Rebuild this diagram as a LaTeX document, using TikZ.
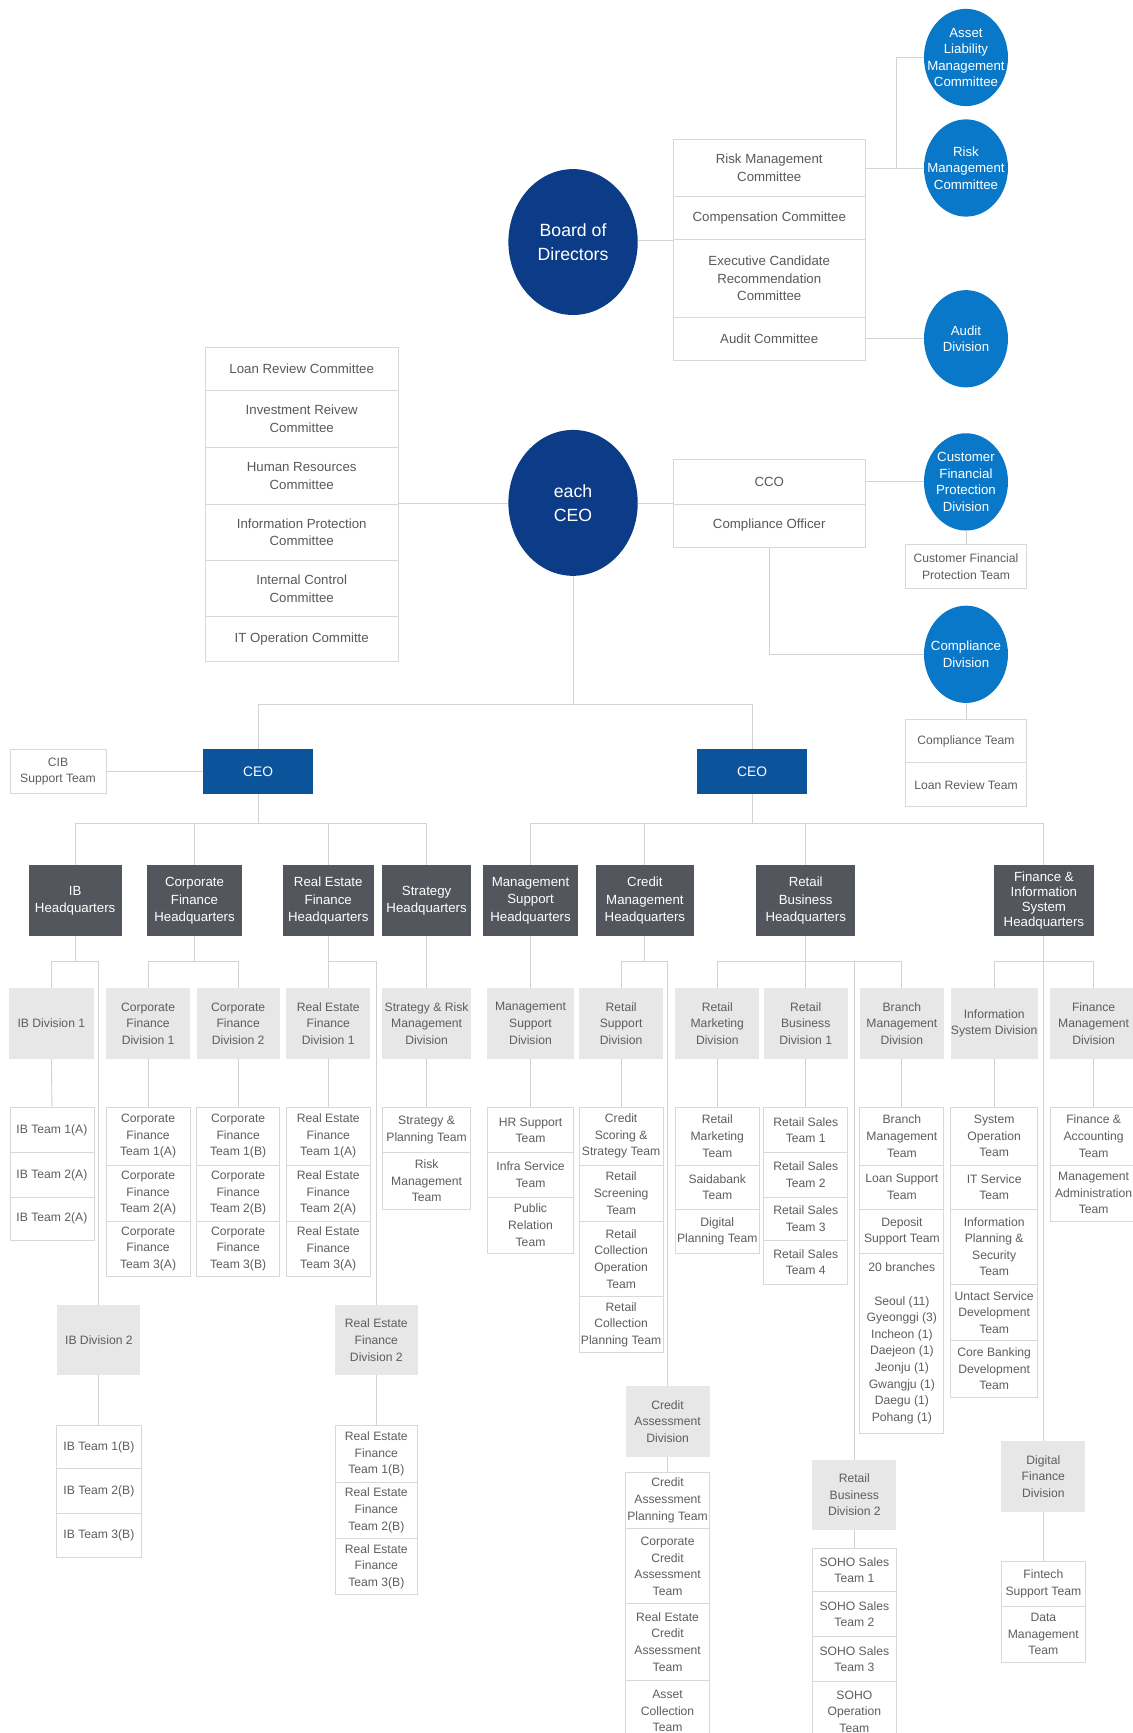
\documentclass[tikz,border=0pt]{standalone}
\usepackage{fontspec}
\setmainfont{Liberation Sans}
\usetikzlibrary{shapes.geometric}
\definecolor{navy}{HTML}{0C3C87}
\definecolor{lblue}{HTML}{0A78C8}
\definecolor{ceob}{HTML}{0B549C}
\definecolor{hqg}{HTML}{53575D}
\definecolor{divg}{HTML}{E7E7E7}
\definecolor{bord}{HTML}{D8D8D8}
\definecolor{linec}{HTML}{D2D2D2}
\definecolor{txt}{HTML}{5E5E5E}
\newcommand\obox[7]{%
  \pgfmathsetmacro\oxa{(#3+#5)/2}%
  \pgfmathsetmacro\oya{(#4+#6)/2}%
  \pgfmathsetmacro\owd{#5-#3}%
  \pgfmathsetmacro\oht{#6-#4}%
  \node[#1, minimum width=\owd pt, minimum height=\oht pt] (#2) at (\oxa,\oya) {#7};}
\tikzset{
  teamb/.style={draw=bord, fill=white, text=txt, align=center, inner sep=0pt, line width=0.7pt, font=\fontsize{11}{15}\selectfont},
  commb/.style={teamb, text=txt!95!black, font=\fontsize{12}{16}\selectfont},
  divb/.style={fill=divg, text=txt, align=center, inner sep=0pt, font=\fontsize{11}{15}\selectfont},
  hqbox/.style={fill=hqg, text=white, align=center, inner sep=0pt, font=\fontsize{12}{16}\selectfont},
  hqfbox/.style={hqbox, font=\fontsize{12}{13.7}\selectfont},
  ceobox/.style={fill=ceob, text=white, inner sep=0pt, font=\fontsize{12.5}{15}\selectfont},
  bigc/.style={ellipse, fill=navy, minimum width=117pt, minimum height=132pt, inner sep=0pt},
  smc/.style={ellipse, fill=lblue, minimum width=76pt, minimum height=88pt, inner sep=0pt},
  bigt/.style={text=white, align=center, inner sep=0pt, font=\fontsize{16}{22}\selectfont},
  smt/.style={text=white, align=center, inner sep=0pt, font=\fontsize{12}{15}\selectfont},
  ln/.style={draw=linec, line width=0.8pt}
}
\begin{document}
\begin{tikzpicture}[x=1pt,y=-1pt]
\fill[white] (0,0) rectangle (1025,1568);
\useasboundingbox (0,0) rectangle (1025,1568);

% ---------- top: board ----------
\node[bigc] (bod) at (518.5,219) {};
\node[bigt] (bodT) at (bod) {Board of\\Directors};
\obox{commb}{rmcr}{609}{126}{783}{178}{Risk Management\\Committee}
\obox{commb}{comp}{609}{178}{783}{217}{Compensation Committee}
\obox{commb}{ecr}{609}{217}{783}{287}{Executive Candidate\\Recommendation\\Committee}
\obox{commb}{audc}{609}{287}{783}{326}{Audit Committee}
\node[smc] (almC) at (874,52) {};
\node[smt] (almT) at (almC) {Asset\\Liability\\Management\\Committee};
\node[smc] (rmcC) at (874,152) {};
\node[smt] (rmcT) at (rmcC) {Risk\\Management\\Committee};
\node[smc] (audC) at (874,306.5) {};
\node[smt] (audT) at (audC) {Audit\\Division};

% ---------- each CEO ----------
\node[bigc] (ceo0) at (518.5,455) {};
\node[bigt] (ceo0T) at (ceo0) {each\\CEO};
\obox{commb}{lrc}{186}{314}{360}{353}{Loan Review Committee}
\obox{commb}{irc}{186}{353}{360}{405}{Investment Reivew\\Committee}
\obox{commb}{hrc}{186}{405}{360}{456}{Human Resources\\Committee}
\obox{commb}{ipc}{186}{456}{360}{507}{Information Protection\\Committee}
\obox{commb}{icc}{186}{507}{360}{558}{Internal Control\\Committee}
\obox{commb}{itc}{186}{558}{360}{598}{IT Operation Committe}
\obox{commb}{cco}{609}{416}{783}{456}{CCO}
\obox{commb}{co}{609}{456}{783}{495}{Compliance Officer}
\node[smc] (cfpdC) at (874,436) {};
\node[smt] (cfpdT) at (cfpdC) {Customer\\Financial\\Protection\\Division};
\obox{teamb}{cfpt}{819}{493}{929}{532}{Customer Financial\\Protection Team}
\node[smc] (cdC) at (874,592) {};
\node[smt] (cdT) at (cdC) {Compliance\\Division};
\obox{teamb}{ctm}{819}{651}{929}{690}{Compliance Team}
\obox{teamb}{lrt}{819}{690}{929}{730}{Loan Review Team}

% ---------- CEOs ----------
\obox{teamb}{cib}{9}{678}{96}{718}{CIB\\Support Team}
\obox{ceobox}{ceoL}{184}{678}{283}{718}{CEO}
\obox{ceobox}{ceoR}{631}{678}{730}{718}{CEO}

% ---------- headquarters ----------
\obox{hqbox}{ibhq}{26}{783}{110}{847}{IB\\Headquarters}
\obox{hqbox}{cfhq}{133}{783}{219}{847}{Corporate\\Finance\\Headquarters}
\obox{hqbox}{rehq}{256}{783}{338}{847}{Real Estate\\Finance\\Headquarters}
\obox{hqbox}{sthq}{346}{783}{426}{847}{Strategy\\Headquarters}
\obox{hqbox}{mshq}{437}{783}{523}{847}{Management\\Support\\Headquarters}
\obox{hqbox}{cmhq}{539}{783}{628}{847}{Credit\\Management\\Headquarters}
\obox{hqbox}{rbhq}{684}{783}{774}{847}{Retail\\Business\\Headquarters}
\obox{hqfbox}{fishq}{899}{783}{990}{847}{Finance \&\\Information\\System\\Headquarters}

% ---------- divisions ----------
\obox{divb}{ibd1}{8}{894}{85}{958}{IB Division 1}
\obox{divb}{cfd1}{96}{894}{172}{958}{Corporate\\Finance\\Division 1}
\obox{divb}{cfd2}{178}{894}{253}{958}{Corporate\\Finance\\Division 2}
\obox{divb}{red1}{259}{894}{335}{958}{Real Estate\\Finance\\Division 1}
\obox{divb}{std}{346}{894}{426}{958}{Strategy \& Risk\\Management\\Division}
\obox{divb}{msd}{441}{894}{519}{958}{Management\\Support\\Division}
\obox{divb}{rsd}{524}{894}{600}{958}{Retail\\Support\\Division}
\obox{divb}{rmd}{611}{894}{687}{958}{Retail\\Marketing\\Division}
\obox{divb}{rbd1}{691}{894}{767}{958}{Retail\\Business\\Division 1}
\obox{divb}{bmd}{778}{894}{854}{958}{Branch\\Management\\Division}
\obox{divb}{isd}{860}{894}{939}{958}{Information\\System Division}
\obox{divb}{fmd}{950}{894}{1029}{958}{Finance\\Management\\Division}
\obox{divb}{ibd2}{52}{1181}{127}{1244}{IB Division 2}
\obox{divb}{red2}{303}{1181}{378}{1244}{Real Estate\\Finance\\Division 2}
\obox{divb}{cad}{566}{1254}{642}{1318}{Credit\\Assessment\\Division}
\obox{divb}{rbd2}{735}{1321}{811}{1384}{Retail\\Business\\Division 2}
\obox{divb}{dfd}{906}{1304}{982}{1368}{Digital\\Finance\\Division}

% ---------- teams ----------
\obox{teamb}{ibA1}{9}{1002}{85}{1043}{IB Team 1(A)}
\obox{teamb}{ibA2}{9}{1043}{85}{1083}{IB Team 2(A)}
\obox{teamb}{ibA3}{9}{1083}{85}{1122}{IB Team 2(A)}

\obox{teamb}{cfA1}{96}{1002}{172}{1054}{Corporate\\Finance\\Team 1(A)}
\obox{teamb}{cfA2}{96}{1054}{172}{1105}{Corporate\\Finance\\Team 2(A)}
\obox{teamb}{cfA3}{96}{1105}{172}{1155}{Corporate\\Finance\\Team 3(A)}

\obox{teamb}{cfB1}{178}{1002}{253}{1054}{Corporate\\Finance\\Team 1(B)}
\obox{teamb}{cfB2}{178}{1054}{253}{1105}{Corporate\\Finance\\Team 2(B)}
\obox{teamb}{cfB3}{178}{1105}{253}{1155}{Corporate\\Finance\\Team 3(B)}

\obox{teamb}{reA1}{259}{1002}{335}{1054}{Real Estate\\Finance\\Team 1(A)}
\obox{teamb}{reA2}{259}{1054}{335}{1105}{Real Estate\\Finance\\Team 2(A)}
\obox{teamb}{reA3}{259}{1105}{335}{1155}{Real Estate\\Finance\\Team 3(A)}

\obox{teamb}{st1}{346}{1002}{426}{1043}{Strategy \&\\Planning Team}
\obox{teamb}{st2}{346}{1043}{426}{1094}{Risk\\Management\\Team}

\obox{teamb}{ms1}{441}{1002}{519}{1043}{HR Support\\Team}
\obox{teamb}{ms2}{441}{1043}{519}{1083}{Infra Service\\Team}
\obox{teamb}{ms3}{441}{1083}{519}{1134}{Public\\Relation\\Team}

\obox{teamb}{rs1}{524}{1002}{600}{1054}{Credit\\Scoring \&\\Strategy Team}
\obox{teamb}{rs2}{524}{1054}{600}{1105}{Retail\\Screening\\Team}
\obox{teamb}{rs3}{524}{1105}{600}{1173}{Retail\\Collection\\Operation\\Team}
\obox{teamb}{rs4}{524}{1173}{600}{1224}{Retail\\Collection\\Planning Team}

\obox{teamb}{rm1}{611}{1002}{687}{1054}{Retail\\Marketing\\Team}
\obox{teamb}{rm2}{611}{1054}{687}{1094}{Saidabank\\Team}
\obox{teamb}{rm3}{611}{1094}{687}{1134}{Digital\\Planning Team}

\obox{teamb}{rb1}{691}{1002}{767}{1043}{Retail Sales\\Team 1}
\obox{teamb}{rb2}{691}{1043}{767}{1083}{Retail Sales\\Team 2}
\obox{teamb}{rb3}{691}{1083}{767}{1122}{Retail Sales\\Team 3}
\obox{teamb}{rb4}{691}{1122}{767}{1162}{Retail Sales\\Team 4}

\obox{teamb}{bm1}{778}{1002}{854}{1054}{Branch\\Management\\Team}
\obox{teamb}{bm2}{778}{1054}{854}{1094}{Loan Support\\Team}
\obox{teamb}{bm3}{778}{1094}{854}{1134}{Deposit\\Support Team}
\obox{teamb}{bm4}{778}{1134}{854}{1297}{20 branches\\ \\Seoul (11)\\Gyeonggi (3)\\Incheon (1)\\Daejeon (1)\\Jeonju (1)\\Gwangju (1)\\Daegu (1)\\Pohang (1)}

\obox{teamb}{is1}{860}{1002}{939}{1054}{System\\Operation\\Team}
\obox{teamb}{is2}{860}{1054}{939}{1094}{IT Service\\Team}
\obox{teamb}{is3}{860}{1094}{939}{1162}{Information\\Planning \&\\Security\\Team}
\obox{teamb}{is4}{860}{1162}{939}{1213}{Untact Service\\Development\\Team}
\obox{teamb}{is5}{860}{1213}{939}{1264}{Core Banking\\Development\\Team}

\obox{teamb}{fm1}{950}{1002}{1029}{1054}{Finance \&\\Accounting\\Team}
\obox{teamb}{fm2}{950}{1054}{1029}{1105}{Management\\Administration\\Team}

\obox{teamb}{ibB1}{51}{1290}{128}{1329}{IB Team 1(B)}
\obox{teamb}{ibB2}{51}{1329}{128}{1369}{IB Team 2(B)}
\obox{teamb}{ibB3}{51}{1369}{128}{1409}{IB Team 3(B)}

\obox{teamb}{reB1}{303}{1290}{378}{1341}{Real Estate\\Finance\\Team 1(B)}
\obox{teamb}{reB2}{303}{1341}{378}{1392}{Real Estate\\Finance\\Team 2(B)}
\obox{teamb}{reB3}{303}{1392}{378}{1443}{Real Estate\\Finance\\Team 3(B)}

\obox{teamb}{ca1}{566}{1332}{642}{1383}{Credit\\Assessment\\Planning Team}
\obox{teamb}{ca2}{566}{1383}{642}{1451}{Corporate\\Credit\\Assessment\\Team}
\obox{teamb}{ca3}{566}{1451}{642}{1520}{Real Estate\\Credit\\Assessment\\Team}
\obox{teamb}{ca4}{566}{1520}{642}{1576}{Asset\\Collection\\Team}

\obox{teamb}{so1}{735}{1401}{811}{1440}{SOHO Sales\\Team 1}
\obox{teamb}{so2}{735}{1440}{811}{1481}{SOHO Sales\\Team 2}
\obox{teamb}{so3}{735}{1481}{811}{1521}{SOHO Sales\\Team 3}
\obox{teamb}{so4}{735}{1521}{811}{1576}{SOHO\\Operation\\Team}

\obox{teamb}{df1}{906}{1413}{982}{1453}{Fintech\\Support Team}
\obox{teamb}{df2}{906}{1453}{982}{1504}{Data\\Management\\Team}

% ---------- connectors: top ----------
\draw[ln] (bod.east |- comp.south west) -- (comp.south west);
\draw[ln] (rmcr.east) -- (rmcC.west);
\coordinate (almj) at (811,152);
\draw[ln] (almC.west) -| (almj);
\draw[ln] (audc.east) -- (audC.west);
\draw[ln] (ipc.north east) -- (ceo0.west |- ipc.north east);
\draw[ln] (ceo0.east |- co.north west) -- (co.north west);
\draw[ln] (cco.east) -- (cfpdC.west);
\draw[ln] (cfpdC.south) -- (cfpt.north);
\draw[ln] (co.south) |- (cdC.west);
\draw[ln] (cdC.south) -- (ctm.north);

\coordinate (topbus) at (518.5,637);
\draw[ln] (ceo0.south) -- (topbus);
\draw[ln] (ceoL.north) |- (topbus);
\draw[ln] (ceoR.north) |- (topbus);
\draw[ln] (ceoL.west) -- (cib.east);

% ---------- CEO buses ----------
\coordinate (busL) at (233.5,745);
\coordinate (busR) at (680.5,745);
\draw[ln] (ceoL.south) -- (busL);
\draw[ln] (ceoR.south) -- (busR);
\foreach \h in {ibhq,cfhq,rehq,sthq} \draw[ln] (\h.north) |- (busL);
\foreach \h in {mshq,cmhq,rbhq,fishq} \draw[ln] (\h.north) |- (busR);

% ---------- HQ to divisions ----------
\coordinate (ibbus) at (68,870);
\draw[ln] (ibhq.south) -- (ibbus);
\draw[ln] (ibd1.north) |- (ibbus);
\draw[ln] (ibd2.north) |- (ibbus);

\coordinate (cfbus) at (176,870);
\draw[ln] (cfhq.south) -- (cfbus);
\draw[ln] (cfd1.north) |- (cfbus);
\draw[ln] (cfd2.north) |- (cfbus);

\coordinate (rebus) at (297,870);
\draw[ln] (rehq.south) -- (rebus);
\draw[ln] (red1.north) |- (rebus);
\draw[ln] (red2.north) |- (rebus);

\draw[ln] (sthq.south) -- (std.north);
\draw[ln] (mshq.south) -- (msd.north);

\coordinate (cmbus) at (583.5,870);
\draw[ln] (cmhq.south) -- (cmbus);
\draw[ln] (rsd.north) |- (cmbus);
\draw[ln] (cad.north) |- (cmbus);

\coordinate (rbbus) at (729,870);
\draw[ln] (rbhq.south) -- (rbbus);
\draw[ln] (rmd.north) |- (rbbus);
\draw[ln] (rbd1.north) |- (rbbus);
\draw[ln] (bmd.north) |- (rbbus);
\draw[ln] (rbd2.north) |- (rbbus);

\coordinate (fisbus) at (944.5,870);
\draw[ln] (fishq.south) -- (fisbus);
\draw[ln] (isd.north) |- (fisbus);
\draw[ln] (fmd.north) |- (fisbus);
\draw[ln] (dfd.north) |- (fisbus);

% ---------- divisions to teams ----------
\draw[ln] (ibd1.south) -- (ibA1.north);
\draw[ln] (cfd1.south) -- (cfA1.north);
\draw[ln] (cfd2.south) -- (cfB1.north);
\draw[ln] (red1.south) -- (reA1.north);
\draw[ln] (std.south) -- (st1.north);
\draw[ln] (msd.south) -- (ms1.north);
\draw[ln] (rsd.south) -- (rs1.north);
\draw[ln] (rmd.south) -- (rm1.north);
\draw[ln] (rbd1.south) -- (rb1.north);
\draw[ln] (bmd.south) -- (bm1.north);
\draw[ln] (isd.south) -- (is1.north);
\draw[ln] (fmd.south) -- (fm1.north);
\draw[ln] (ibd2.south) -- (ibB1.north);
\draw[ln] (red2.south) -- (reB1.north);
\draw[ln] (cad.south) -- (ca1.north);
\draw[ln] (rbd2.south) -- (so1.north);
\draw[ln] (dfd.south) -- (df1.north);
\end{tikzpicture}
\end{document}
